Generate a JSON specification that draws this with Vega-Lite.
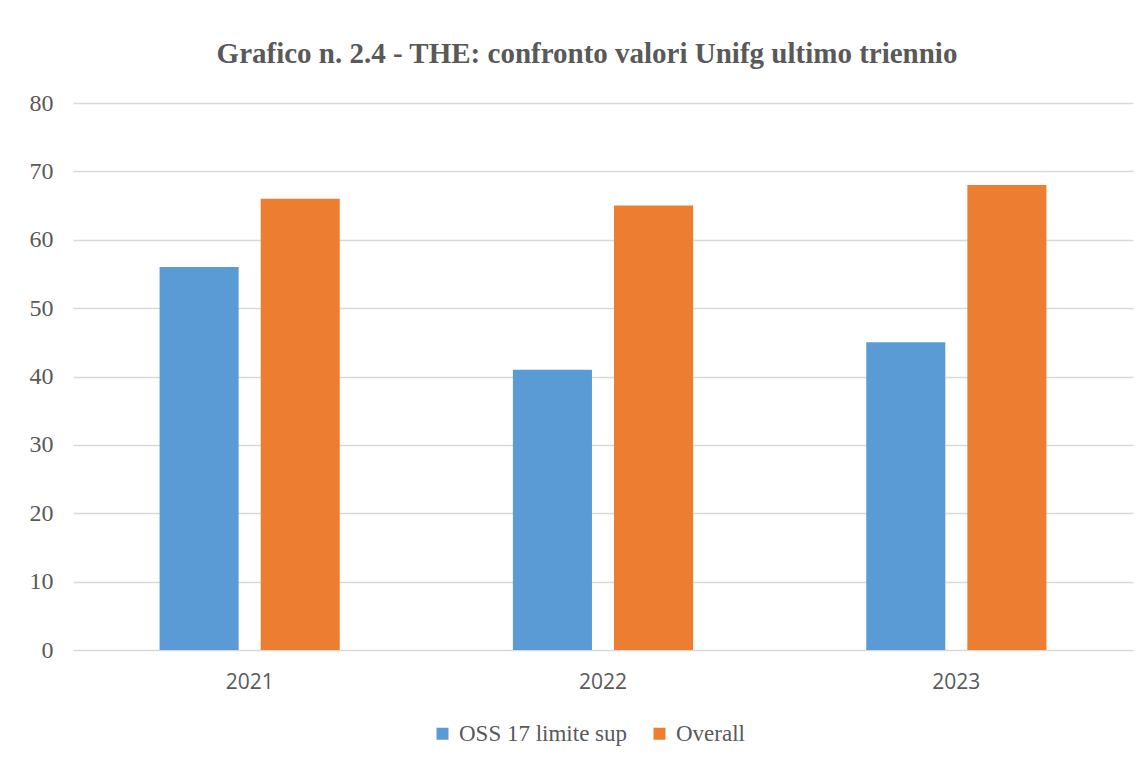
{
  "$schema": "https://vega.github.io/schema/vega-lite/v6.json",
  "width": 1060,
  "height": 547,
  "autosize": {"type": "none"},
  "padding": {"left": 73, "top": 103, "right": 14, "bottom": 113},
  "background": "white",
  "title": {
    "text": "Grafico n. 2.4 - THE: confronto valori Unifg ultimo triennio",
    "font": "Liberation Serif",
    "fontSize": 29,
    "fontWeight": "bold",
    "color": "#595959",
    "anchor": "middle",
    "offset": 22,
    "dx": -16
  },
  "data": {
    "values": [
      {"anno": "2021", "serie": "OSS 17 limite sup", "valore": 56},
      {"anno": "2021", "serie": "Overall", "valore": 66},
      {"anno": "2022", "serie": "OSS 17 limite sup", "valore": 41},
      {"anno": "2022", "serie": "Overall", "valore": 65},
      {"anno": "2023", "serie": "OSS 17 limite sup", "valore": 45},
      {"anno": "2023", "serie": "Overall", "valore": 68}
    ]
  },
  "mark": {"type": "bar"},
  "encoding": {
    "x": {
      "field": "anno",
      "type": "nominal",
      "scale": {"paddingInner": 0.49, "paddingOuter": 0.245},
      "axis": {
        "title": null,
        "labelAngle": 0,
        "labelFont": "Open Sans",
        "labelFontSize": 21,
        "labelColor": "#595959",
        "labelPadding": 21,
        "ticks": false,
        "domain": false
      }
    },
    "xOffset": {
      "field": "serie",
      "type": "nominal",
      "scale": {"paddingInner": 0.218, "paddingOuter": 0}
    },
    "y": {
      "field": "valore",
      "type": "quantitative",
      "scale": {"domain": [0, 80]},
      "axis": {
        "title": null,
        "values": [0, 10, 20, 30, 40, 50, 60, 70, 80],
        "labelFont": "Liberation Serif",
        "labelFontSize": 24,
        "labelColor": "#595959",
        "labelPadding": 20,
        "ticks": false,
        "domain": false,
        "gridColor": "#d9d9d9",
        "gridWidth": 1.3
      }
    },
    "color": {
      "field": "serie",
      "type": "nominal",
      "scale": {"domain": ["OSS 17 limite sup", "Overall"], "range": ["#5B9BD5", "#ED7D31"]},
      "legend": {
        "title": null,
        "orient": "none",
        "direction": "horizontal",
        "legendX": 358,
        "legendY": 619,
        "symbolType": "square",
        "symbolSize": 144,
        "symbolStrokeWidth": 0,
        "labelFont": "Liberation Serif",
        "labelFontSize": 23,
        "labelLimit": 400,
        "labelColor": "#595959",
        "labelOffset": 5,
        "columnPadding": 20
      }
    }
  },
  "config": {
    "view": {"stroke": null}
  }
}
